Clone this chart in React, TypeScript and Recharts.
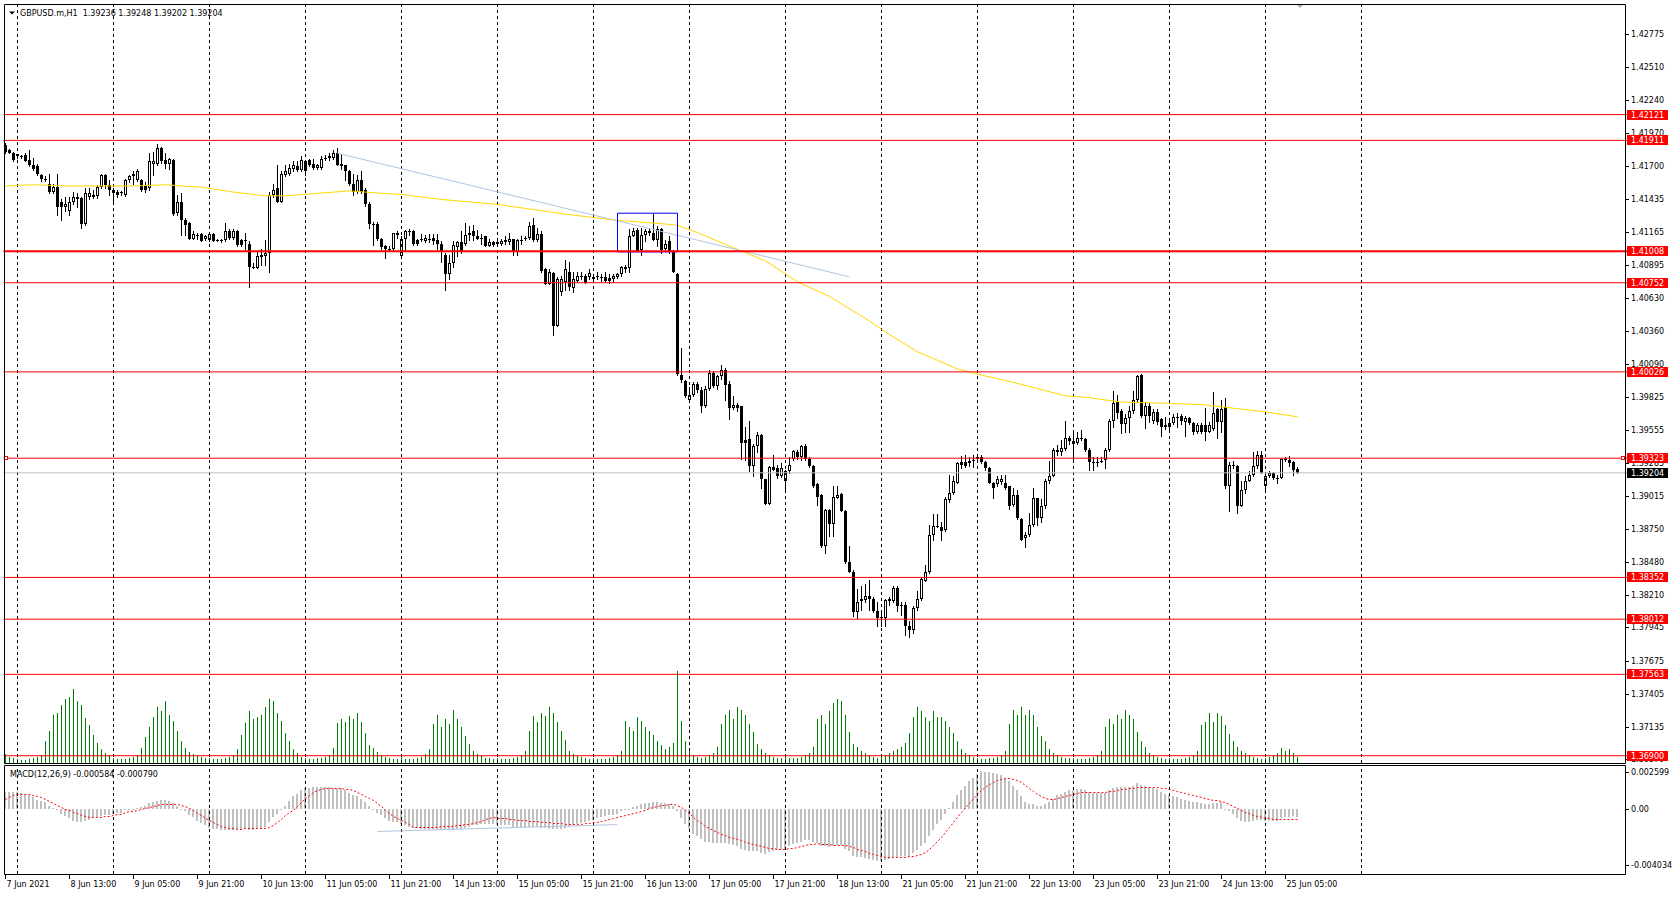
import React from "react";
import { Bar, ComposedChart, Line, ReferenceLine, XAxis, YAxis } from "recharts";

// GBPUSD.m H1, 7 Jun 21:00 .. 25 Jun 08:00 (prices in pips, 1 pip = 0.0001)
const opens = [
  14187, 14183, 14181,
  14178, 14178, 14179, 14175, 14171, 14170, 14163, 14159, 14156, 14149, 14153, 14141, 14137, 14134, 14141, 14145, 14144, 14123, 14145, 14147, 14146, 14153, 14163, 14155,
  14151, 14149, 14148, 14147, 14159, 14162, 14159, 14159, 14155, 14152, 14172, 14172, 14185, 14175, 14172, 14175, 14132, 14141, 14126, 14124, 14111, 14113, 14115, 14111,
  14110, 14115, 14110, 14109, 14110, 14117, 14112, 14117, 14110, 14109, 14107, 14088, 14087, 14096, 14097, 14099, 14147, 14152, 14141, 14163, 14164, 14168, 14170, 14167,
  14174, 14175, 14172, 14169, 14169, 14176, 14177, 14177, 14181, 14172, 14171, 14166, 14156, 14149, 14159, 14151, 14139, 14123, 14123, 14111, 14105, 14103, 14103, 14114,
  14097, 14111, 14117, 14117, 14110, 14110, 14109, 14110, 14112, 14110, 14107, 14098, 14082, 14091, 14104, 14108, 14107, 14114, 14117, 14113, 14111, 14113, 14105, 14108,
  14107, 14107, 14110, 14108, 14111, 14100, 14109, 14111, 14112, 14122, 14110, 14115, 14086, 14074, 14083, 14040, 14068, 14076, 14084, 14071, 14077, 14080, 14081, 14080,
  14078, 14080, 14080, 14080, 14079, 14078, 14080, 14082, 14086, 14087, 14113, 14118, 14102, 14114, 14116, 14116, 14110, 14119, 14103, 14109, 14101, 14082, 14000, 13995,
  13980, 13984, 13993, 13988, 13975, 13989, 14002, 13991, 13999, 14004, 13993, 13973, 13976, 13975, 13947, 13948, 13926, 13942, 13951, 13915, 13895, 13925, 13924, 13918,
  13914, 13922, 13932, 13937, 13933, 13942, 13932, 13926, 13911, 13902, 13861, 13890, 13879, 13900, 13903, 13889, 13848, 13840, 13807, 13816, 13817, 13820, 13818, 13808,
  13803, 13802, 13816, 13816, 13827, 13813, 13813, 13796, 13792, 13810, 13818, 13832, 13840, 13870, 13876, 13876, 13874, 13898, 13904, 13912, 13929, 13929, 13928, 13930,
  13932, 13933, 13929, 13924, 13912, 13911, 13913, 13912, 13910, 13894, 13902, 13883, 13867, 13870, 13878, 13900, 13884, 13893, 13914, 13918, 13939, 13937, 13940, 13949,
  13946, 13945, 13949, 13948, 13939, 13929, 13928, 13929, 13931, 13939, 13963, 13978, 13971, 13960, 13965, 13971, 13980, 14000, 13967, 13975, 13963, 13970, 13964, 13958,
  13958, 13961, 13966, 13967, 13962, 13965, 13961, 13954, 13959, 13959, 13954, 13956, 13972, 13962, 13974, 13910, 13927, 13926, 13893, 13906, 13914, 13919, 13926, 13935,
  13910, 13918, 13920, 13916, 13916, 13932, 13931, 13929, 13923.6,
];
const highs = [
  14189, 14184, 14182,
  14180, 14179, 14181, 14183, 14177, 14172, 14164, 14162, 14164, 14156, 14164, 14143, 14145, 14145, 14149, 14148, 14145, 14152, 14152, 14151, 14155, 14164, 14164, 14159,
  14152, 14151, 14150, 14160, 14163, 14166, 14168, 14160, 14157, 14181, 14182, 14188, 14186, 14181, 14177, 14176, 14147, 14148, 14128, 14125, 14117, 14116, 14116, 14114,
  14116, 14116, 14111, 14111, 14124, 14119, 14119, 14118, 14111, 14116, 14109, 14091, 14101, 14103, 14110, 14149, 14156, 14171, 14166, 14171, 14172, 14174, 14174, 14178,
  14175, 14176, 14176, 14172, 14178, 14179, 14181, 14183, 14185, 14180, 14171, 14167, 14164, 14163, 14166, 14152, 14141, 14125, 14125, 14112, 14106, 14105, 14116, 14117,
  14113, 14118, 14119, 14118, 14111, 14115, 14114, 14115, 14115, 14115, 14109, 14099, 14098, 14109, 14109, 14117, 14124, 14121, 14122, 14118, 14115, 14113, 14111, 14109,
  14109, 14111, 14113, 14116, 14111, 14111, 14113, 14113, 14125, 14128, 14120, 14117, 14087, 14086, 14084, 14080, 14081, 14094, 14092, 14084, 14084, 14084, 14082, 14086,
  14081, 14084, 14082, 14084, 14082, 14082, 14083, 14089, 14090, 14119, 14120, 14120, 14120, 14119, 14119, 14131, 14121, 14120, 14110, 14113, 14102, 14083, 14022, 13996,
  13990, 13994, 13994, 13990, 13991, 14004, 14003, 14000, 14008, 14006, 13995, 13983, 13977, 13975, 13958, 13963, 13944, 13954, 13952, 13915, 13926, 13935, 13927, 13928,
  13923, 13933, 13939, 13939, 13943, 13944, 13933, 13927, 13912, 13903, 13891, 13891, 13910, 13910, 13904, 13890, 13861, 13841, 13826, 13828, 13830, 13833, 13819, 13815,
  13806, 13818, 13819, 13828, 13828, 13815, 13815, 13800, 13812, 13824, 13835, 13845, 13878, 13887, 13887, 13880, 13901, 13919, 13918, 13929, 13934, 13935, 13933, 13935,
  13935, 13935, 13930, 13925, 13913, 13918, 13919, 13919, 13910, 13908, 13906, 13884, 13872, 13888, 13908, 13900, 13899, 13915, 13930, 13941, 13943, 13947, 13963, 13950,
  13953, 13954, 13955, 13949, 13941, 13933, 13933, 13933, 13941, 13964, 13987, 13984, 13972, 13968, 13975, 13987, 14000, 14001, 13978, 13977, 13972, 13972, 13965, 13966,
  13965, 13968, 13969, 13968, 13967, 13966, 13962, 13961, 13961, 13973, 13962, 13986, 13973, 13980, 13981, 13929, 13930, 13927, 13914, 13918, 13922, 13937, 13938, 13938,
  13920, 13922, 13921, 13919, 13932, 13933, 13934, 13930, 13924.8,
];
const lows = [
  14181, 14181, 14174,
  14177, 14177, 14174, 14170, 14167, 14163, 14158, 14158, 14148, 14148, 14130, 14126, 14134, 14130, 14139, 14137, 14120, 14122, 14143, 14144, 14144, 14152, 14152, 14147,
  14139, 14145, 14147, 14146, 14157, 14156, 14158, 14150, 14149, 14151, 14163, 14171, 14173, 14169, 14168, 14130, 14130, 14114, 14114, 14111, 14111, 14111, 14109, 14110,
  14109, 14109, 14109, 14108, 14109, 14111, 14111, 14105, 14105, 14103, 14072, 14087, 14087, 14090, 14090, 14084, 14145, 14141, 14141, 14162, 14163, 14166, 14166, 14166,
  14163, 14170, 14168, 14168, 14168, 14175, 14175, 14176, 14171, 14168, 14159, 14155, 14147, 14148, 14148, 14138, 14120, 14106, 14110, 14103, 14095, 14101, 14102, 14112,
  14096, 14101, 14114, 14106, 14106, 14109, 14108, 14108, 14107, 14103, 14092, 14069, 14078, 14088, 14097, 14099, 14106, 14110, 14110, 14111, 14107, 14105, 14105, 14105,
  14105, 14106, 14107, 14107, 14098, 14098, 14107, 14110, 14111, 14109, 14109, 14084, 14074, 14074, 14033, 14040, 14065, 14069, 14069, 14068, 14076, 14078, 14075, 14078,
  14078, 14078, 14077, 14076, 14075, 14076, 14079, 14081, 14084, 14084, 14113, 14101, 14098, 14109, 14114, 14110, 14105, 14099, 14101, 14099, 14084, 14000, 13994, 13982,
  13979, 13983, 13986, 13970, 13974, 13988, 13990, 13989, 13997, 13980, 13964, 13972, 13971, 13932, 13931, 13922, 13918, 13937, 13908, 13895, 13895, 13923, 13916, 13917,
  13906, 13920, 13931, 13932, 13931, 13931, 13925, 13909, 13894, 13860, 13855, 13869, 13869, 13900, 13889, 13847, 13840, 13804, 13802, 13809, 13815, 13809, 13807, 13796,
  13796, 13796, 13813, 13815, 13808, 13805, 13788, 13787, 13790, 13809, 13817, 13832, 13839, 13866, 13876, 13866, 13873, 13897, 13903, 13912, 13924, 13925, 13926, 13925,
  13929, 13928, 13923, 13912, 13900, 13910, 13911, 13907, 13891, 13893, 13883, 13866, 13860, 13869, 13877, 13878, 13880, 13892, 13912, 13918, 13935, 13935, 13939, 13944,
  13932, 13944, 13947, 13938, 13923, 13923, 13926, 13929, 13924, 13938, 13958, 13965, 13953, 13954, 13954, 13969, 13979, 13966, 13957, 13962, 13961, 13960, 13950, 13956,
  13954, 13960, 13958, 13960, 13950, 13960, 13952, 13953, 13953, 13947, 13954, 13955, 13949, 13954, 13908, 13889, 13924, 13888, 13893, 13904, 13914, 13918, 13924, 13920,
  13906, 13917, 13915, 13912, 13916, 13930, 13926, 13919, 13920.2,
];
const closes = [
  14182, 14181, 14175,
  14180, 14178, 14174, 14171, 14168, 14164, 14160, 14160, 14149, 14153, 14137, 14137, 14139, 14141, 14145, 14143, 14123, 14148, 14148, 14145, 14153, 14163, 14155, 14151,
  14148, 14147, 14149, 14159, 14162, 14164, 14166, 14151, 14151, 14174, 14174, 14185, 14174, 14172, 14176, 14131, 14141, 14126, 14122, 14111, 14115, 14114, 14109, 14113,
  14115, 14109, 14110, 14110, 14117, 14112, 14117, 14106, 14106, 14110, 14088, 14087, 14097, 14098, 14099, 14147, 14151, 14141, 14164, 14166, 14169, 14171, 14167, 14175,
  14166, 14171, 14169, 14171, 14176, 14177, 14178, 14181, 14171, 14170, 14166, 14156, 14149, 14159, 14149, 14139, 14123, 14122, 14111, 14104, 14103, 14103, 14116, 14116,
  14111, 14117, 14117, 14107, 14107, 14111, 14112, 14111, 14109, 14107, 14101, 14082, 14091, 14106, 14108, 14100, 14114, 14116, 14113, 14111, 14112, 14105, 14108, 14106,
  14108, 14109, 14108, 14111, 14100, 14110, 14110, 14112, 14121, 14110, 14115, 14085, 14074, 14084, 14040, 14078, 14078, 14086, 14072, 14078, 14081, 14081, 14075, 14083,
  14080, 14081, 14080, 14077, 14077, 14081, 14082, 14088, 14088, 14113, 14117, 14101, 14114, 14117, 14117, 14110, 14119, 14102, 14107, 14101, 14084, 14001, 13996, 13983,
  13984, 13993, 13988, 13975, 13989, 14002, 13991, 13999, 14004, 13992, 13973, 13976, 13973, 13945, 13945, 13926, 13942, 13951, 13915, 13895, 13925, 13923, 13918, 13924,
  13922, 13927, 13938, 13933, 13942, 13932, 13926, 13910, 13901, 13861, 13890, 13879, 13901, 13902, 13889, 13848, 13840, 13807, 13815, 13818, 13820, 13818, 13808, 13802,
  13802, 13817, 13818, 13827, 13812, 13812, 13796, 13792, 13810, 13818, 13834, 13840, 13870, 13877, 13877, 13873, 13899, 13904, 13914, 13928, 13927, 13926, 13930, 13931,
  13933, 13929, 13924, 13912, 13908, 13915, 13915, 13908, 13893, 13902, 13884, 13866, 13870, 13878, 13900, 13884, 13893, 13914, 13918, 13939, 13937, 13941, 13949, 13946,
  13944, 13949, 13948, 13939, 13929, 13928, 13929, 13930, 13939, 13963, 13977, 13969, 13960, 13965, 13971, 13980, 13999, 13967, 13975, 13967, 13970, 13962, 13958, 13959,
  13961, 13966, 13966, 13963, 13965, 13961, 13954, 13959, 13954, 13954, 13959, 13969, 13962, 13972, 13910, 13927, 13926, 13893, 13906, 13914, 13919, 13926, 13935, 13920,
  13918, 13920, 13916, 13916, 13932, 13931, 13928, 13923, 13920.4,
];
// tick volume
const volumes = [
  900, 600, 500,
  400, 300, 300, 400, 500, 600, 800, 2200, 3200, 4800, 5000, 5800, 6400, 6600, 7400, 6200, 5800, 4500, 3800, 2800, 2000, 1400, 1000, 800,
  500, 400, 400, 400, 500, 600, 800, 1500, 2600, 3600, 4600, 5600, 5200, 6200, 4800, 4200, 3200, 2200, 1500, 1100, 900, 700, 600, 500,
  500, 400, 400, 400, 500, 600, 800, 1400, 2800, 4000, 5200, 4400, 4600, 4800, 5600, 6400, 6200, 5000, 4200, 3000, 2200, 1400, 1000, 600,
  500, 400, 400, 500, 500, 600, 800, 1500, 4000, 4400, 4100, 4700, 4400, 5000, 4100, 3000, 1800, 1500, 1100, 800, 600, 500, 400, 400,
  600, 400, 400, 400, 500, 600, 900, 1400, 3900, 4800, 3600, 4400, 3900, 5300, 4400, 3600, 2700, 1900, 1200, 900, 700, 500, 500, 400,
  500, 400, 400, 400, 500, 600, 800, 1200, 3200, 4700, 4100, 5000, 4700, 5600, 5000, 4100, 3200, 2300, 1200, 900, 700, 600, 500, 400,
  500, 400, 400, 400, 500, 600, 800, 1200, 4200, 3600, 3200, 4600, 4200, 3600, 3200, 2800, 2200, 1800, 1400, 1600, 2000, 9200, 4200, 2200,
  1200, 800, 600, 500, 600, 800, 1000, 1600, 3900, 4800, 5300, 4400, 5600, 5300, 4800, 3900, 3100, 1900, 1400, 1000, 800, 600, 500, 500,
  600, 500, 500, 500, 600, 800, 1000, 1600, 4400, 4800, 3900, 5200, 6000, 6400, 6200, 4800, 3100, 1900, 1600, 1200, 1000, 800, 600, 500,
  600, 800, 1000, 1200, 1400, 1600, 2000, 3000, 4600, 5600, 5200, 4600, 4200, 5200, 4600, 4600, 4200, 3600, 3000, 2200, 1400, 1000, 800, 600,
  500, 400, 400, 500, 500, 600, 800, 1200, 3900, 5300, 4800, 5600, 4800, 5300, 4800, 3600, 2700, 2200, 1400, 1000, 800, 600, 500, 500,
  500, 400, 400, 400, 500, 600, 800, 1200, 3600, 4400, 3900, 4800, 4400, 5300, 4800, 4400, 3100, 2200, 1600, 1000, 800, 600, 500, 400,
  500, 400, 400, 400, 500, 600, 800, 1200, 3800, 4100, 5000, 4100, 5000, 4700, 3800, 2900, 2200, 1600, 1200, 1000, 800, 600, 500, 400,
  500, 600, 800, 1000, 1500, 1200, 1400, 1000, 600,
];
// MACD(12,26,9) main and signal, in pips
const macdMain = [
  12.1, 12.1, 12.1,
  12.1, 11.4, 10.7, 9.3, 7.9, 6.4, 5.7, 4.3, 2.1, 0.7, -1.4, -3.6, -5.7, -7.1, -8.6, -9.3, -9.3, -8.6, -7.9, -7.1, -6.4, -5.7, -5.0, -4.3,
  -3.6, -2.9, -2.9, -1.4, -0.7, 0, 0.7, 1.4, 2.1, 3.6, 4.3, 5.7, 6.4, 6.4, 5.7, 3.6, 2.1, 0, -2.1, -4.3, -6.4, -8.6, -10.7, -12.1,
  -13.6, -15.0, -15.0, -15.7, -15.7, -15.7, -15.7, -15.0, -15.0, -15.0, -15.7, -15.7, -15.0, -14.3, -12.9, -10.0, -6.4, -3.6, -0.7, 2.1, 5.7, 8.6, 10.7, 12.9,
  14.3, 15.0, 15.7, 15.7, 15.7, 15.7, 15.7, 15.0, 15.0, 14.3, 12.9, 11.4, 10.0, 8.6, 7.1, 5.0, 2.1, -0.7, -2.9, -5.0, -7.1, -8.6, -9.3, -10.0,
  -11.4, -12.1, -12.9, -13.6, -13.6, -14.3, -14.3, -14.3, -15.0, -15.0, -15.0, -15.0, -15.7, -15.7, -15.0, -14.3, -13.6, -12.9, -12.1, -12.1, -11.4, -11.4, -11.4, -11.4,
  -12.1, -12.1, -12.1, -12.1, -12.9, -12.9, -12.9, -12.9, -12.9, -12.9, -12.9, -13.6, -13.6, -14.3, -14.3, -15.0, -14.3, -13.6, -12.9, -12.1, -11.4, -10.7, -9.3, -8.6,
  -7.9, -7.1, -6.4, -5.7, -5.0, -4.3, -3.6, -2.1, -1.4, 0, 1.4, 2.1, 2.9, 3.6, 3.6, 4.3, 4.3, 3.6, 3.6, 2.9, 2.1, -2.1, -7.1, -11.4,
  -15.0, -17.9, -20.0, -22.1, -23.6, -23.6, -24.3, -24.3, -24.3, -25.0, -25.7, -26.4, -27.1, -28.6, -29.3, -30.7, -30.7, -30.7, -32.1, -32.8, -31.4, -30.7, -30.0, -29.3,
  -28.6, -27.1, -25.7, -24.3, -23.6, -22.8, -22.8, -23.6, -24.3, -27.1, -27.1, -27.8, -27.1, -26.4, -26.4, -28.6, -30.7, -33.6, -34.3, -35.0, -35.7, -36.4, -37.1, -37.8,
  -37.8, -37.1, -36.4, -35.0, -34.3, -33.6, -33.6, -33.6, -32.1, -30.0, -27.1, -24.3, -20.0, -15.7, -11.4, -7.9, -3.6, 0.7, 5.0, 9.3, 12.9, 16.4, 19.3, 22.1,
  24.3, 27.1, 26.4, 26.4, 25.7, 25.0, 23.6, 22.1, 19.3, 16.4, 12.9, 8.6, 5.0, 2.9, 2.9, 2.1, 2.1, 2.9, 4.3, 7.1, 9.3, 10.7, 12.1, 12.9,
  12.9, 13.6, 13.6, 12.9, 12.1, 11.4, 11.4, 11.4, 11.4, 12.9, 15.0, 15.7, 15.7, 15.7, 15.7, 16.4, 17.9, 17.1, 16.4, 15.7, 15.0, 13.6, 12.1, 10.7,
  9.3, 8.6, 7.9, 7.1, 6.4, 5.7, 5.0, 4.3, 3.6, 2.9, 2.9, 3.6, 3.6, 4.3, 0, -2.1, -3.6, -7.1, -8.6, -9.3, -9.3, -8.6, -7.9, -7.9,
  -8.6, -8.6, -8.6, -8.6, -7.1, -6.4, -6.4, -5.7, -5.84,
];
const macdSignal = [
  6.4, 7.9, 9.3,
  10.0, 10.0, 10.0, 10.0, 9.3, 8.6, 7.9, 6.4, 5.0, 3.6, 2.1, 0.7, -0.7, -1.4, -2.9, -3.6, -5.0, -5.7, -6.4, -6.4, -6.4, -6.4, -5.7, -5.7,
  -5.0, -4.3, -4.3, -2.9, -2.1, -2.1, -1.4, -0.7, 0, 0.7, 1.4, 2.1, 2.9, 2.9, 2.9, 2.9, 2.9, 2.1, 1.4, 0, -1.4, -3.6, -5.0, -7.1,
  -8.6, -10.0, -11.4, -12.9, -13.6, -14.3, -14.3, -15.0, -15.0, -14.3, -14.3, -14.3, -14.3, -14.3, -14.3, -13.6, -12.1, -10.0, -7.9, -5.0, -2.9, -1.4, 1.4, 4.3,
  7.1, 9.3, 11.4, 12.9, 13.6, 14.3, 14.3, 14.3, 14.3, 14.3, 13.6, 13.6, 12.9, 11.4, 10.0, 8.6, 7.1, 5.7, 3.6, 1.4, -1.4, -3.6, -5.7, -7.1,
  -8.6, -10.0, -11.4, -13.6, -13.6, -13.6, -13.6, -13.6, -13.6, -13.6, -12.9, -12.9, -12.9, -12.9, -12.1, -12.1, -11.4, -11.4, -10.7, -10.0, -9.3, -7.9, -7.1, -6.4,
  -7.1, -7.1, -7.1, -7.9, -7.9, -8.6, -8.6, -8.6, -9.3, -9.3, -9.3, -10.0, -10.0, -10.0, -10.7, -10.7, -10.7, -11.4, -11.4, -11.4, -11.4, -11.4, -10.7, -10.7,
  -10.0, -10.0, -9.3, -8.6, -7.9, -7.1, -6.4, -5.7, -5.0, -4.3, -3.6, -2.9, -2.1, -1.4, 0, 0.7, 1.4, 2.1, 2.1, 2.9, 2.9, 2.1, 0.7, -1.4,
  -3.6, -6.4, -8.6, -10.7, -12.9, -14.3, -15.7, -17.1, -18.6, -19.3, -20.7, -21.4, -22.1, -22.8, -24.3, -25.0, -25.7, -26.4, -27.1, -27.8, -28.6, -28.6, -29.3, -29.3,
  -29.3, -28.6, -28.6, -27.8, -27.1, -26.4, -25.7, -25.7, -25.0, -25.7, -25.7, -25.7, -26.4, -26.4, -26.4, -26.4, -27.1, -27.8, -29.3, -30.0, -30.7, -32.1, -32.8, -33.6,
  -34.3, -35.0, -35.0, -35.0, -35.0, -35.0, -35.0, -34.3, -34.3, -33.6, -32.8, -31.4, -29.3, -26.4, -23.6, -20.7, -17.1, -13.6, -10.0, -6.4, -2.9, 0.7, 3.6, 7.1,
  10.0, 12.9, 15.0, 17.1, 18.6, 20.0, 20.7, 21.4, 21.4, 20.7, 20.0, 18.6, 16.4, 14.3, 12.1, 10.0, 8.6, 7.1, 6.4, 6.4, 7.1, 7.9, 8.6, 9.3,
  10.0, 10.7, 11.4, 11.4, 11.4, 11.4, 11.4, 11.4, 11.4, 12.1, 12.1, 12.9, 13.6, 13.6, 14.3, 14.3, 15.0, 15.0, 15.0, 15.0, 15.0, 15.0, 14.3, 14.3,
  13.6, 12.9, 12.1, 11.4, 10.7, 10.0, 9.3, 8.6, 7.9, 7.1, 6.4, 5.7, 5.7, 5.0, 4.3, 2.9, 1.4, 0, -1.4, -2.9, -3.6, -5.0, -5.7, -6.4,
  -7.1, -7.1, -7.9, -7.9, -7.9, -7.9, -7.9, -7.9, -7.9,
];
// yellow moving average, read at these bars (pips)
const maBars = [0, 7, 15, 24, 32, 40, 44, 49, 57, 65, 70, 74, 82, 86, 90, 99, 109, 123, 140, 153, 165, 168, 173, 181, 190, 198, 206, 216, 220, 228, 238, 244, 252, 258, 265, 270, 279, 290, 299, 307, 315, 323];
const maValues = [14154, 14155, 14154, 14154, 14154, 14155, 14154, 14153, 14149, 14146, 14146, 14147, 14149, 14150, 14149, 14147, 14143, 14139, 14131, 14126, 14123, 14122, 14116, 14105, 14093, 14076, 14064, 14044, 14035, 14019, 14005, 14000, 13994, 13989, 13983, 13982, 13978, 13977, 13976, 13973, 13970, 13966];

const levels = [1.42121, 1.41911, 1.41008, 1.40752, 1.40026, 1.39323, 1.38352, 1.38012, 1.37563, 1.369];
const thickLevel = 1.41008;
const markedLevel = 1.39323;
const trendBars = [83, 211];
const trendPrices = [1.41806, 1.408];
const boxBars = [153, 168];
const boxPrices = [1.41003, 1.41318];
// trend line drawn in the MACD window (pips)
const macdTrendBars = [93, 153];
const macdTrendValues = [-16.4, -11.5];

const priceTicks = [1.42775, 1.4251, 1.4224, 1.4197, 1.417, 1.41435, 1.41165, 1.40895, 1.4063, 1.4036, 1.4009, 1.39825, 1.39555, 1.39285, 1.39015, 1.3875, 1.3848, 1.3821, 1.37945, 1.37675, 1.37405, 1.37135, 1.3687];
const macdTicks = [0.002599, 0, -0.004034];
const timeTickBars = [0, 16, 32, 48, 64, 80, 96, 112, 128, 144, 160, 176, 192, 208, 224, 240, 256, 272, 288, 304, 320];
const timeLabels = ["7 Jun 2021", "8 Jun 13:00", "9 Jun 05:00", "9 Jun 21:00", "10 Jun 13:00", "11 Jun 05:00", "11 Jun 21:00", "14 Jun 13:00", "15 Jun 05:00", "15 Jun 21:00", "16 Jun 13:00", "17 Jun 05:00", "17 Jun 21:00", "18 Jun 13:00", "21 Jun 05:00", "21 Jun 21:00", "22 Jun 13:00", "23 Jun 05:00", "23 Jun 21:00", "24 Jun 13:00", "25 Jun 05:00"];
const daySeparators = [3, 27, 51, 75, 99, 123, 147, 171, 195, 219, 243, 267, 291, 315, 339];

const W = 1673;
const H = 897;
const SLOTS = 406; // visible bar slots incl. the empty shift area
const PIP = 0.0001;
const FONT = "DejaVu Sans";
const P_DOMAIN: [number, number] = [1.368409, 1.430136];
const M_DOMAIN: [number, number] = [-0.004679, 0.003036];

const N = opens.length;
const rows: any[] = Array.from({ length: SLOTS }, (_, i) =>
  i < N
    ? { i, o: opens[i] * PIP, h: highs[i] * PIP, l: lows[i] * PIP, c: closes[i] * PIP, vol: volumes[i], hist: macdMain[i] * PIP, sig: macdSignal[i] * PIP }
    : { i }
);
maBars.forEach((b, k) => {
  rows[b].ma = maValues[k] * PIP;
});
macdTrendBars.forEach((b, k) => {
  rows[b].mt = macdTrendValues[k] * PIP;
});
const last = rows[N - 1];

function Candle(p: any) {
  const r = p.payload;
  if (!r || r.h == null) return <g />;
  const top = Math.min(p.y, p.y + p.height);
  const span = Math.abs(p.height);
  const k = r.h === r.l ? 0 : span / (r.h - r.l);
  const yAt = (v: number) => Math.round(top + (r.h - v) * k);
  const cx = Math.floor(p.x + p.width / 2) + 0.5;
  const yo = yAt(r.o);
  const yc = yAt(r.c);
  const bt = Math.min(yo, yc);
  const bb = Math.max(yo, yc);
  let body;
  if (bb - bt < 2) body = <rect x={cx - 1.5} y={bt} width={3} height={1} fill="#000" />;
  else if (r.c > r.o) body = <rect x={cx - 1} y={bt + 0.5} width={2} height={bb - bt - 1} fill="#fff" stroke="#000" strokeWidth={1} />;
  else body = <rect x={cx - 1.5} y={bt} width={3} height={bb - bt} fill="#000" />;
  return (
    <g>
      <line x1={cx} x2={cx} y1={Math.round(top)} y2={Math.round(top + span) + 1} stroke="#000" strokeWidth={1} />
      {body}
    </g>
  );
}

function VolumeBar(p: any) {
  if (!p.payload || p.payload.vol == null) return <g />;
  const top = Math.round(Math.min(p.y, p.y + p.height));
  const bot = Math.round(Math.max(p.y, p.y + p.height));
  return <rect x={Math.floor(p.x + p.width / 2)} y={top} width={1} height={bot - top} fill="#008000" />;
}

function HistBar(p: any) {
  if (!p.payload || p.payload.hist == null) return <g />;
  const top = Math.round(Math.min(p.y, p.y + p.height));
  const bot = Math.round(Math.max(p.y, p.y + p.height));
  return <rect x={Math.floor(p.x + p.width / 2) - 1} y={top} width={2} height={Math.max(bot - top, 1)} fill="#C0C0C0" />;
}

function AxisTick(p: any) {
  const y = Math.round(p.y) + 0.5;
  const v = p.payload.value;
  const txt = Math.abs(v) < 0.1 ? (v === 0 ? "0.00" : v.toFixed(6)) : v.toFixed(5);
  return (
    <g>
      <line x1={1626} x2={1629} y1={y} y2={y} stroke="#000" />
      <text x={1631} y={p.y + 3} fontSize={8} fontFamily={FONT} fill="#000">{txt}</text>
    </g>
  );
}

function TimeTick(p: any) {
  const k = timeTickBars.indexOf(p.payload.value);
  const x = Math.floor(p.x) + 0.5;
  return (
    <g>
      <line x1={x} x2={x} y1={875} y2={879} stroke="#000" />
      <text x={x + 1} y={887} fontSize={8} fontFamily={FONT} fill="#000">{timeLabels[k]}</text>
    </g>
  );
}

function priceBox(value: number, bg: string, marker: boolean) {
  return (p: any) => {
    const vb = p.viewBox || {};
    const y = Math.round(vb.y);
    return (
      <g>
        {marker && <rect x={4.5} y={y - 1.5} width={3} height={3} fill="#fff" stroke="#FF0000" />}
        {marker && <rect x={1621.5} y={y - 1.5} width={3} height={3} fill="#fff" stroke="#FF0000" />}
        <rect x={1627} y={y - 5} width={41} height={10} fill={bg} />
        <text x={1631} y={y + 3} fontSize={8} fontFamily={FONT} fill="#fff">{value.toFixed(5)}</text>
      </g>
    );
  };
}

const layer: React.CSSProperties = { position: "absolute", left: 0, top: 0 };

export default function App() {
  const macdText = `MACD(12,26,9) ${last.hist.toFixed(6)} ${last.sig.toFixed(6)}`;
  const header = `GBPUSD.m,H1  ${last.o.toFixed(5)} ${last.h.toFixed(5)} ${last.l.toFixed(5)} ${last.c.toFixed(5)}`;
  return (
    <div style={{ position: "absolute", left: 0, top: 0, width: W, height: H, background: "#fff", overflow: "hidden" }}>
      {/* volumes + price scale labels */}
      <div style={layer}>
        <ComposedChart width={W} height={H} data={rows} margin={{ top: 5, right: 0, bottom: 134, left: 3.5 }}>
          <XAxis dataKey="i" type="category" hide />
          <YAxis yAxisId="v" hide domain={[0, 75800]} allowDataOverflow />
          <YAxis yAxisId="p" orientation="right" width={45.5} domain={P_DOMAIN} allowDataOverflow ticks={priceTicks} interval={0} axisLine={false} tickLine={false} tick={AxisTick} />
          <Bar yAxisId="v" dataKey="vol" shape={VolumeBar} isAnimationActive={false} />
        </ComposedChart>
      </div>

      {/* candles, MA, objects */}
      <div style={layer}>
        <ComposedChart width={W} height={H} data={rows} margin={{ top: 5, right: 45.5, bottom: 134, left: 3.5 }}>
          <XAxis dataKey="i" type="category" hide />
          <YAxis hide domain={P_DOMAIN} allowDataOverflow />
          {daySeparators.map((d) => (
            <ReferenceLine key={"s" + d} x={d} stroke="#000" strokeDasharray="3 3" />
          ))}
          <Bar dataKey={(r: any) => (r.h == null ? null : [r.l, r.h])} shape={Candle} isAnimationActive={false} />
          <Line dataKey="ma" stroke="#FFD700" strokeWidth={1} dot={false} connectNulls isAnimationActive={false} />
          <ReferenceLine segment={[{ x: trendBars[0], y: trendPrices[0] }, { x: trendBars[1], y: trendPrices[1] }]} stroke="#B0C4DE" />
          <ReferenceLine segment={[{ x: boxBars[0], y: boxPrices[1] }, { x: boxBars[1], y: boxPrices[1] }]} stroke="#0000FF" />
          <ReferenceLine segment={[{ x: boxBars[0], y: boxPrices[0] }, { x: boxBars[1], y: boxPrices[0] }]} stroke="#0000FF" />
          <ReferenceLine segment={[{ x: boxBars[0], y: boxPrices[0] }, { x: boxBars[0], y: boxPrices[1] }]} stroke="#0000FF" />
          <ReferenceLine segment={[{ x: boxBars[1], y: boxPrices[0] }, { x: boxBars[1], y: boxPrices[1] }]} stroke="#0000FF" />
          <ReferenceLine y={last.c} stroke="#C0C0C0" label={priceBox(last.c, "#000", false)} />
          {levels.map((lv) => (
            <ReferenceLine key={"l" + lv} y={lv} stroke="#FF0000" strokeWidth={lv === thickLevel ? 2 : 1} label={priceBox(lv, "#FF0000", lv === markedLevel)} />
          ))}
        </ComposedChart>
      </div>

      {/* MACD window + time scale */}
      <div style={layer}>
        <ComposedChart width={W} height={H} data={rows} margin={{ top: 766, right: 0, bottom: 0, left: 3.5 }}>
          <XAxis dataKey="i" type="category" height={23} ticks={timeTickBars} interval={0} axisLine={false} tickLine={false} tick={TimeTick} />
          <YAxis orientation="right" width={45.5} domain={M_DOMAIN} allowDataOverflow ticks={macdTicks} interval={0} axisLine={false} tickLine={false} tick={AxisTick} />
          {daySeparators.map((d) => (
            <ReferenceLine key={"m" + d} x={d} stroke="#000" strokeDasharray="3 3" />
          ))}
          <Bar dataKey="hist" shape={HistBar} isAnimationActive={false} />
          <Line dataKey="sig" stroke="#FF0000" strokeWidth={1} strokeDasharray="2 2" dot={false} isAnimationActive={false} />
          <Line dataKey="mt" stroke="#B0C4DE" strokeWidth={1} dot={false} connectNulls isAnimationActive={false} />
        </ComposedChart>
      </div>

      {/* window frames and captions */}
      <svg width={W} height={H} style={layer}>
        <path d="M4.5 4.5 H1625.5 V763.5 H4.5 Z" fill="none" stroke="#000" />
        <path d="M4.5 765.5 H1625.5 V874.5 H4.5 Z" fill="none" stroke="#000" />
        <polygon points="9,11.5 15,11.5 12,14.5" fill="#000" />
        <text x={20} y={16} fontSize={8} fontFamily={FONT} fill="#000" style={{ whiteSpace: "pre" }}>{header}</text>
        <text x={10} y={777} fontSize={8} fontFamily={FONT} fill="#000">{macdText}</text>
        <polygon points="1297,5 1303,5 1300,8" fill="#B0B0B0" />
      </svg>
    </div>
  );
}
